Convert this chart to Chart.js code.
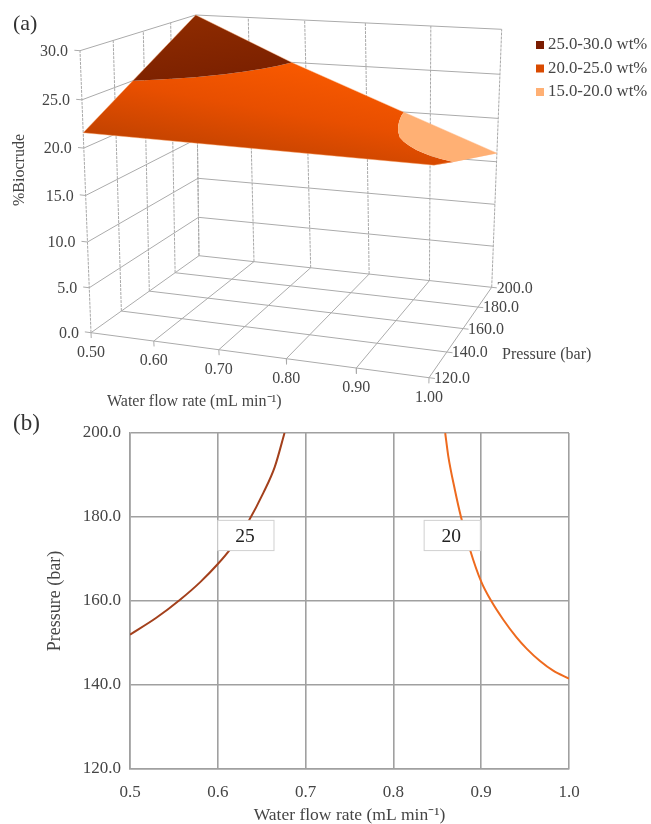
<!DOCTYPE html>
<html>
<head>
<meta charset="utf-8">
<script src="https://cdn.jsdelivr.net/npm/chart.js@4"></script>
<style>
html,body{margin:0;padding:0;background:#fff;overflow:hidden}
canvas{position:absolute;left:0}
#surface{top:0}
#contour{top:410px}
</style>
</head>
<body>
<canvas id="surface" width="651" height="410"></canvas>
<canvas id="contour" width="651" height="414"></canvas>
<script>
// values
const flowTicks=[0.5,0.6,0.7,0.8,0.9,1.0];
const pressureTicks=[120,140,160,180,200];
const biocrudeTicks=[0,5,10,15,20,25,30];

const contour25Flow=[0.5,0.53,0.557,0.58,0.6,0.614,0.635,0.652,0.665,0.676];
const contour25Pressure=[152,156,160.3,164.5,168.8,172.3,179,185.8,192,200];
const contour20Flow=[0.859,0.8625,0.87,0.877,0.887,0.9,0.912,0.925,0.94,0.952,0.967,0.982,1.0];
const contour20Pressure=[200,194.5,186.5,180,172.4,164.6,159.8,155.6,151.4,148.6,145.7,143.4,141.5];

// biocrude at the four corners of the surface
const cornerLowLow=21.6;   // 0.5 mL/min, 120 bar
const cornerLowHigh=30;    // 0.5 mL/min, 200 bar
const cornerHighHigh=16;   // 1.0 mL/min, 200 bar
const cornerHighLow=21.6;  // 1.0 mL/min, 120 bar

const legendLabels=["25.0-30.0 wt%","20.0-25.0 wt%","15.0-20.0 wt%"];
const legendColors=["#7a1c00","#d94a00","#ffb074"];

const serif='"Liberation Serif","Times New Roman",serif';
const textColor="#454545";

// view of the 3D box, corners in canvas units: front-left, front-right, back-right, back-left
const floorQuad=[[91,332.7],[429,377.7],[491.7,287.3],[199,255.7]];
const roofQuad=[[80,50.7],[436,78],[501.7,29.3],[195.7,15]];
const heightPerspective=1.055;

function quadMap(q){
const [x0,y0]=q[0],[x1,y1]=q[1],[x2,y2]=q[2],[x3,y3]=q[3];
const dx1=x1-x2,dx2=x3-x2,sx=x0-x1+x2-x3;
const dy1=y1-y2,dy2=y3-y2,sy=y0-y1+y2-y3;
const det=dx1*dy2-dx2*dy1;
const g=(sx*dy2-dx2*sy)/det,h=(dx1*sy-sx*dy1)/det;
const a=x1-x0+g*x1,b=x3-x0+h*x3,d=y1-y0+g*y1,e=y3-y0+h*y3;
return (u,v)=>{
const w=g*u+h*v+1;
return [(a*u+b*v+x0)/w,(d*u+e*v+y0)/w];
};
}
const floorAt=quadMap(floorQuad),roofAt=quadMap(roofQuad);

function project(flow,pressure,biocrude){
const u=(flow-0.5)/0.5,v=(pressure-120)/80,z=biocrude/30;
const t=z/(z+(1-z)*heightPerspective);
const f=floorAt(u,v),r=roofAt(u,v);
return {x:f[0]+(r[0]-f[0])*t,y:f[1]+(r[1]-f[1])*t};
}

function gridLine(a,b,color,dash){
return {data:[project(...a),project(...b)],showLine:true,pointRadius:0,borderColor:color||"#ababab",borderWidth:1,borderDash:dash||[],order:5};
}

function buildGrid(){
const out=[];
const wall="#a8a8a8",dash=[3,1];
flowTicks.forEach(f=>{
out.push(gridLine([f,120,0],[f,200,0])); // floor
out.push(gridLine([f,200,0],[f,200,30],wall,dash)); // back wall
out.push(gridLine([f,120,0],[f,120,-0.6])); // tick
});
pressureTicks.forEach(p=>{
out.push(gridLine([0.5,p,0],[1,p,0]));
out.push(gridLine([0.5,p,0],[0.5,p,30],wall,dash)); // left wall
out.push(gridLine([1,p,0],[1.008,p,0]));
});
biocrudeTicks.forEach(z=>{
if(z===0)return;
out.push(gridLine([0.5,120,z],[0.5,200,z]));
out.push(gridLine([0.5,200,z],[1,200,z]));
out.push(gridLine([0.5,120,z],[0.49,120,z]));
});
out.push(gridLine([0.5,120,0],[0.49,120,0]));
return out;
}

function contourPoints(flows,pressures,level){
return flows.map((f,i)=>project(f,pressures[i],level));
}

function region(points,fill,order){
return {data:points,showLine:true,pointRadius:0,borderWidth:0,fill:"shape",backgroundColor:fill,order:order};
}

const top25=contourPoints(contour25Flow,contour25Pressure,25);
const low20=contourPoints(contour20Flow,contour20Pressure,20);

function midFill(ctx){
const g=ctx.chart.ctx.createLinearGradient(330,55,310,170);
g.addColorStop(0,"#fd5c00");
g.addColorStop(0.55,"#e84f00");
g.addColorStop(1,"#c44300");
return g;
}
function topFill(ctx){
const g=ctx.chart.ctx.createLinearGradient(200,15,210,85);
g.addColorStop(0,"#8e2b00");
g.addColorStop(1,"#7a2000");
return g;
}

const surfaceSets=[
region([project(0.5,200,cornerLowHigh),...top25],topFill,1),
region([project(0.5,120,cornerLowLow),...top25,...low20,project(1,120,cornerHighLow)],midFill,2),
region([project(1,200,cornerHighHigh),...low20],"#ffb074",1),
{
// pale rim of the surface, following the same boundary as the filled regions
data:[project(0.5,120,cornerLowLow),project(0.5,200,cornerLowHigh),top25[top25.length-1],low20[0],project(1,200,cornerHighHigh),project(1,120,cornerHighLow),project(0.5,120,cornerLowLow)],
showLine:true,pointRadius:0,borderColor:"rgba(255,175,120,0.55)",borderWidth:0.8,order:0
}
];

// labels of panel (a), drawn with the hidden scales
const surfaceLabels={
id:"surfaceLabels",
afterDraw(chart){
const c=chart.ctx,sx=chart.scales.x,sy=chart.scales.y;
const text=(s,p,dx,dy,align)=>{
c.textAlign=align;
c.fillText(s,sx.getPixelForValue(p.x)+dx,sy.getPixelForValue(p.y)+dy);
};
c.save();
c.fillStyle=textColor;
c.textBaseline="middle";
c.font="16px "+serif;
biocrudeTicks.forEach(z=>text(z.toFixed(1),project(0.5,120,z),-12,1,"right"));
flowTicks.forEach(f=>text(f.toFixed(2),project(f,120,0),0,20,"center"));
pressureTicks.forEach(p=>text(p.toFixed(1),project(1,p,0),5,1,"left"));
c.textAlign="left";
c.fillText("Water flow rate (mL min\u207B\u00B9)",107,402);
c.fillText("Pressure (bar)",502,355);
c.save();
c.translate(20,170);
c.rotate(-Math.PI/2);
c.textAlign="center";
c.fillText("%Biocrude",0,0);
c.restore();
// legend
legendLabels.forEach((s,i)=>{
const y=45+i*23.5;
c.fillStyle=legendColors[i];
c.fillRect(536,y-4,8,8);
c.fillStyle=textColor;
c.textAlign="left";
c.font="16.8px "+serif;
c.fillText(s,548,y);
});
c.font="22px "+serif;
c.fillStyle="#333";
c.fillText("(a)",13,24);
c.restore();
}
};

new Chart(document.getElementById("surface"),{
type:"scatter",
data:{datasets:[...surfaceSets,...buildGrid()]},
options:{
responsive:false,
animation:false,
layout:{padding:0},
plugins:{legend:{display:false},tooltip:{enabled:false}},
scales:{
x:{type:"linear",display:false,min:0,max:651},
y:{type:"linear",display:false,min:0,max:410,reverse:true}
}
},
plugins:[surfaceLabels]
});

// boxes sitting on the contour lines of panel (b)
const contourLabels={
id:"contourLabels",
afterDatasetsDraw(chart){
const c=chart.ctx,sx=chart.scales.x,sy=chart.scales.y;
c.save();
[["25",0.6,0.664],["20",0.835,0.899]].forEach(b=>{
const x0=sx.getPixelForValue(b[1]),x1=sx.getPixelForValue(b[2]);
const y0=sy.getPixelForValue(179.2),y1=sy.getPixelForValue(172);
c.fillStyle="#fff";
c.strokeStyle="#d0d0d0";
c.lineWidth=1;
c.fillRect(x0,y0,x1-x0,y1-y0);
c.strokeRect(x0,y0,x1-x0,y1-y0);
c.fillStyle="#222";
c.font="19.5px "+serif;
c.textAlign="center";
c.textBaseline="middle";
c.fillText(b[0],(x0+x1)/2-1,(y0+y1)/2+1);
});
c.restore();
},
afterDraw(chart){
const c=chart.ctx;
c.save();
c.font="23px "+serif;
c.fillStyle="#333";
c.textBaseline="middle";
c.fillText("(b)",13,14);
c.restore();
}
};

const gridStyle={color:"#a0a0a0",lineWidth:1.6,drawTicks:false};
const borderStyle={color:"#a0a0a0",width:1.6};
const tickFont={family:serif,size:17};

function curve(flows,pressures,color){
return {data:flows.map((f,i)=>({x:f,y:pressures[i]})),showLine:true,pointRadius:0,borderColor:color,borderWidth:2,cubicInterpolationMode:"monotone"};
}

new Chart(document.getElementById("contour"),{
type:"scatter",
data:{datasets:[
curve(contour25Flow,contour25Pressure,"#a3401c"),
curve(contour20Flow,contour20Pressure,"#ee6a1e")
]},
options:{
responsive:false,
animation:false,
layout:{padding:{left:0,right:82,top:23,bottom:0}},
plugins:{legend:{display:false},tooltip:{enabled:false}},
scales:{
x:{
type:"linear",min:0.5,max:1,
afterFit:s=>{s.height=55;},
grid:gridStyle,border:borderStyle,
ticks:{stepSize:0.1,padding:13,color:textColor,font:tickFont,maxRotation:0,callback:v=>v.toFixed(1)},
title:{display:true,text:"Water flow rate (mL min\u207B\u00B9)",color:textColor,font:{family:serif,size:17.5,lineHeight:1},padding:{top:-2,bottom:0}}
},
y:{
type:"linear",min:120,max:200,
afterFit:s=>{s.width=130;},
grid:gridStyle,border:borderStyle,
ticks:{stepSize:20,padding:9,color:textColor,font:tickFont,callback:v=>v.toFixed(1)},
title:{display:true,text:"Pressure (bar)",color:textColor,font:{family:serif,size:18,lineHeight:1},padding:{top:46,bottom:0}}
}
}
},
plugins:[contourLabels]
});
</script>
</body>
</html>
